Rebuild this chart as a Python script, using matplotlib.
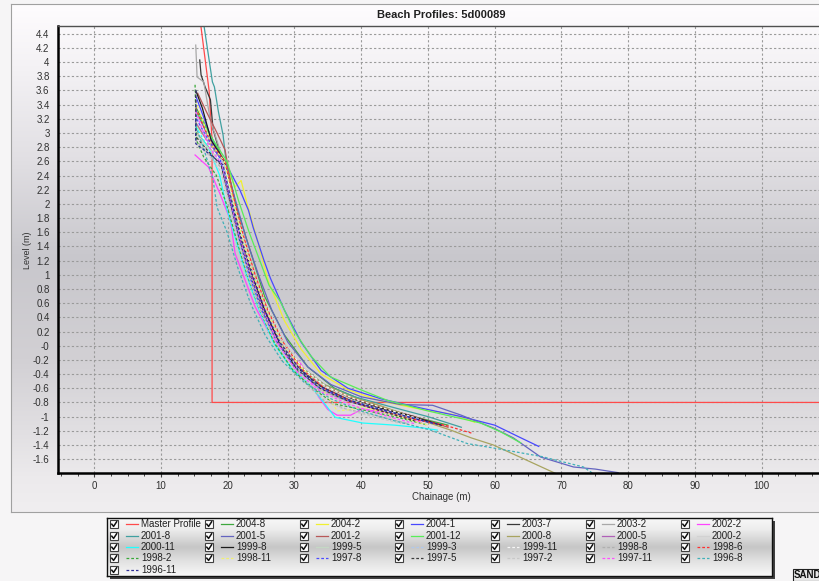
import matplotlib
matplotlib.use("Agg")
import matplotlib.pyplot as plt
import numpy as np
from matplotlib.colors import LinearSegmentedColormap
from matplotlib.lines import Line2D
from matplotlib.patches import Rectangle
from matplotlib.ticker import MultipleLocator, FixedLocator

W, H = 819, 581
FONT = "Liberation Sans"

# --- profile data (chainage m, level m) ---
master_x = [15.85, 17.2, 17.65, 17.65, 115.0]
master_y = [4.6, 3.6, 2.9, -0.8, -0.8]

x_2004_8 = [15.3, 17.8, 19.8, 21.5, 23.5, 25.5, 28.5, 32, 36, 41, 47, 53]
y_2004_8 = [3.35, 2.9, 2.55, 1.9, 1.3, 0.7, 0.15, -0.3, -0.6, -0.8, -0.98, -1.12]

x_2004_2 = [15.4, 17.6, 19.5, 21.1, 22.0, 22.9, 24.4, 26.1, 28.5, 31, 34, 38, 43, 48, 53.8, 57]
y_2004_2 = [3.1, 2.8, 2.6, 2.24, 2.33, 2.0, 1.5, 0.9, 0.35, -0.05, -0.4, -0.62, -0.78, -0.88, -0.97, -1.08]

x_2004_1 = [15.3, 17.8, 19.8, 21.8, 23.1, 23.8, 25.4, 26.4, 28.5, 31, 34, 38, 43, 49, 55, 60, 63.5, 66.6]
y_2004_1 = [3.5, 2.86, 2.55, 2.2, 1.91, 1.67, 1.21, 0.95, 0.5, 0.05, -0.35, -0.6, -0.75, -0.88, -1.0, -1.12, -1.28, -1.42]

x_2003_7 = [15.8, 16.0, 16.6, 17.4, 17.8, 19.3, 20.6, 22, 23.6, 25.5, 27.8, 30.5, 34, 38, 43, 48]
y_2003_7 = [4.03, 3.82, 3.65, 3.47, 3.05, 2.57, 2.0, 1.5, 1.0, 0.5, 0.05, -0.3, -0.58, -0.75, -0.88, -1.0]

x_2003_2 = [15.2, 15.3, 15.4, 16.4, 17.4, 19.3, 20.8, 22, 23.5, 25.3, 27.5, 30, 33, 37, 42, 47, 51]
y_2003_2 = [4.24, 4.03, 3.79, 3.72, 3.18, 2.62, 2.0, 1.5, 1.0, 0.5, 0.0, -0.35, -0.6, -0.75, -0.88, -1.0, -1.1]

x_2002_2 = [15.1, 17.1, 18.8, 20.4, 21.1, 22.5, 24.1, 26, 27.9, 30.9, 32.5, 33.6, 35, 36.4, 38.4, 40.2, 44, 49]
y_2002_2 = [2.69, 2.52, 2.15, 1.77, 1.3, 0.95, 0.55, 0.22, -0.02, -0.25, -0.5, -0.72, -0.9, -0.98, -0.98, -0.89, -0.95, -1.08]

x_2001_8 = [16.3, 17.7, 18.0, 18.6, 19.3, 19.8, 21, 22.3, 24, 26, 28.3, 31, 34.5, 39, 44, 50, 55]
y_2001_8 = [4.6, 3.72, 3.65, 3.3, 2.97, 2.55, 2.0, 1.5, 1.0, 0.5, 0.05, -0.3, -0.55, -0.72, -0.85, -1.0, -1.15]

x_2001_5 = [15.3, 17.6, 19.7, 21.3, 22.8, 24.6, 26.6, 29, 32, 35.5, 40, 45.9, 50.7, 55, 59.8, 62.8, 66.9, 71.8, 75.1, 78.5]
y_2001_5 = [3.3, 2.85, 2.55, 2.0, 1.5, 1.0, 0.5, 0.05, -0.3, -0.55, -0.72, -0.83, -0.84, -0.98, -1.16, -1.3, -1.57, -1.71, -1.74, -1.79]

x_2001_2 = [15.5, 16.8, 18.4, 19.6, 20.8, 22.2, 23.8, 25.6, 27.8, 30.6, 34, 38, 43, 48, 53]
y_2001_2 = [3.56, 3.3, 3.0, 2.76, 2.1, 1.55, 1.0, 0.5, 0.05, -0.3, -0.55, -0.72, -0.87, -1.0, -1.15]

x_2001_12 = [15.3, 17.8, 19.9, 21.6, 23.2, 24.8, 26.2, 27.9, 30, 32.5, 35.4, 39.9, 43.9, 50, 57.9, 61, 63.9]
y_2001_12 = [3.3, 2.9, 2.6, 2.05, 1.6, 1.2, 0.85, 0.62, 0.2, -0.15, -0.44, -0.62, -0.77, -0.92, -1.09, -1.22, -1.37]

x_2000_8 = [15.3, 17.6, 19.6, 21, 22.4, 24.1, 26, 28.3, 31, 34.5, 38.5, 43, 48, 53.4, 56.5, 59.8, 64, 69.1]
y_2000_8 = [3.0, 2.75, 2.55, 2.0, 1.5, 1.0, 0.5, 0.05, -0.3, -0.55, -0.72, -0.85, -1.02, -1.19, -1.3, -1.4, -1.58, -1.8]

x_2000_5 = [15.2, 17.5, 19.4, 20.8, 22.2, 23.8, 25.7, 28, 30.8, 34, 38, 43, 48]
y_2000_5 = [3.15, 2.8, 2.58, 2.0, 1.5, 1.0, 0.5, 0.02, -0.35, -0.6, -0.78, -0.92, -1.05]

x_2000_2 = [15.2, 17.4, 19.3, 20.5, 21.9, 23.5, 25.4, 27.6, 30.2, 33.5, 37.5, 42, 47]
y_2000_2 = [3.0, 2.75, 2.6, 2.0, 1.5, 1.0, 0.5, 0.0, -0.38, -0.62, -0.8, -0.95, -1.1]

x_2000_11 = [15.2, 17.3, 18.8, 19.8, 21.2, 22.8, 24.7, 27, 29.6, 31.9, 32.9, 36.1, 40.2, 45, 49.3, 51.4]
y_2000_11 = [3.1, 2.75, 2.4, 1.95, 1.5, 1.0, 0.5, 0.02, -0.33, -0.52, -0.62, -1.01, -1.09, -1.12, -1.16, -1.19]

x_1999_8 = [15.2, 16.2, 17.5, 19.5, 20.8, 22.1, 23.7, 25.5, 27.7, 30.2, 33.5, 37.5, 42, 47, 52]
y_1999_8 = [3.6, 3.35, 2.9, 2.6, 2.0, 1.5, 1.0, 0.5, 0.05, -0.3, -0.55, -0.72, -0.86, -0.98, -1.12]

x_1999_5 = [15.3, 17.5, 19.5, 20.9, 22.3, 24, 25.9, 28.2, 31, 34.5, 38.5, 43, 48]
y_1999_5 = [2.95, 2.75, 2.55, 2.0, 1.5, 1.0, 0.5, 0.05, -0.32, -0.58, -0.76, -0.9, -1.05]

x_1999_3 = [15.2, 17.4, 19.4, 20.7, 22.1, 23.8, 25.8, 28.1, 30.8, 34, 38, 43, 48]
y_1999_3 = [3.25, 2.8, 2.55, 2.0, 1.5, 1.0, 0.5, 0.0, -0.35, -0.6, -0.78, -0.92, -1.06]

x_1999_11 = [15.3, 17.6, 19.5, 21, 22.4, 24.1, 26.1, 28.5, 31.3, 34.8, 39, 44, 49]
y_1999_11 = [3.05, 2.78, 2.52, 2.0, 1.5, 1.0, 0.5, 0.02, -0.32, -0.58, -0.75, -0.9, -1.04]

x_1998_8 = [15.2, 17.2, 19.1, 20.3, 21.6, 23.1, 25, 27.1, 28.4, 29.9, 31.9, 34.5, 38, 42, 47]
y_1998_8 = [2.9, 2.7, 2.5, 2.0, 1.5, 1.0, 0.5, 0.1, -0.05, -0.3, -0.55, -0.78, -0.9, -0.98, -1.1]

x_1998_6 = [15.2, 17.5, 19.6, 21.1, 22.5, 24.1, 26, 28.3, 31, 34.5, 38.5, 43, 48, 52.5, 56.8]
y_1998_6 = [3.35, 2.85, 2.6, 2.0, 1.5, 1.0, 0.5, 0.05, -0.32, -0.6, -0.78, -0.92, -1.04, -1.12, -1.24]

x_1998_2 = [15.1, 15.2, 15.3, 16.4, 18.3, 19.8, 21.3, 22.9, 24.8, 27.1, 29.8, 33, 36, 40, 45, 50]
y_1998_2 = [3.68, 3.3, 2.9, 2.66, 2.4, 2.0, 1.5, 1.0, 0.5, 0.02, -0.35, -0.62, -0.82, -0.9, -1.0, -1.12]

x_1998_11 = [15.2, 17.5, 19.5, 20.9, 22.2, 23.8, 25.8, 28.2, 31, 33.5, 34.9, 36.4, 38.5, 40, 45, 50]
y_1998_11 = [3.45, 2.85, 2.6, 2.0, 1.5, 1.0, 0.5, 0.0, -0.3, -0.55, -0.7, -0.92, -0.9, -0.86, -0.98, -1.12]

x_1997_8 = [15.2, 15.3, 16.8, 18.8, 20.2, 21.6, 23.2, 25.1, 27.4, 30, 33.5, 37.5, 42, 47, 51]
y_1997_8 = [3.6, 3.2, 2.95, 2.65, 2.1, 1.55, 1.0, 0.5, 0.05, -0.3, -0.58, -0.75, -0.88, -1.0, -1.1]

x_1997_5 = [15.2, 15.2, 17, 19, 20.4, 21.8, 23.4, 25.3, 27.6, 30.3, 33.8, 38, 43, 48]
y_1997_5 = [3.6, 2.95, 2.75, 2.55, 2.0, 1.5, 1.0, 0.5, 0.03, -0.33, -0.6, -0.78, -0.92, -1.06]

x_1997_2 = [15.3, 17.2, 19, 20.2, 21.5, 23, 24.8, 26.9, 28.4, 29.9, 31.9, 34, 37, 41, 46]
y_1997_2 = [2.85, 2.68, 2.45, 2.0, 1.5, 1.0, 0.5, 0.1, 0.08, -0.24, -0.52, -0.72, -0.88, -0.98, -1.1]

x_1997_11 = [15.2, 17.2, 19.2, 20.5, 21.9, 23.5, 25.4, 27.7, 30.5, 34, 38, 43, 48]
y_1997_11 = [3.3, 2.8, 2.55, 2.0, 1.5, 1.0, 0.5, 0.0, -0.38, -0.65, -0.82, -0.97, -1.1]

x_1996_8 = [15.2, 16.5, 17.8, 18.4, 19.9, 21.5, 23.4, 25.6, 28.2, 31.5, 35.5, 40, 45, 50.4, 55.9, 60.9, 66.9, 73.3, 74.7]
y_1996_8 = [3.1, 2.75, 2.34, 1.95, 1.6, 1.1, 0.6, 0.15, -0.22, -0.52, -0.75, -0.92, -1.06, -1.19, -1.38, -1.46, -1.56, -1.71, -1.8]

x_1996_11 = [15.2, 15.2, 17.3, 19.3, 20.6, 22, 23.6, 25.5, 27.8, 30.5, 34, 38, 43, 48, 52]
y_1996_11 = [3.2, 2.85, 2.7, 2.55, 2.0, 1.5, 1.0, 0.5, 0.05, -0.3, -0.58, -0.76, -0.9, -1.03, -1.12]

labels = ["Master Profile", "2004-8", "2004-2", "2004-1", "2003-7", "2003-2", "2002-2",
          "2001-8", "2001-5", "2001-2", "2001-12", "2000-8", "2000-5", "2000-2",
          "2000-11", "1999-8", "1999-5", "1999-3", "1999-11", "1998-8", "1998-6",
          "1998-2", "1998-11", "1997-8", "1997-5", "1997-2", "1997-11", "1996-8",
          "1996-11"]

profiles = [
    (master_x, master_y), (x_2004_8, y_2004_8), (x_2004_2, y_2004_2), (x_2004_1, y_2004_1),
    (x_2003_7, y_2003_7), (x_2003_2, y_2003_2), (x_2002_2, y_2002_2), (x_2001_8, y_2001_8),
    (x_2001_5, y_2001_5), (x_2001_2, y_2001_2), (x_2001_12, y_2001_12), (x_2000_8, y_2000_8),
    (x_2000_5, y_2000_5), (x_2000_2, y_2000_2), (x_2000_11, y_2000_11), (x_1999_8, y_1999_8),
    (x_1999_5, y_1999_5), (x_1999_3, y_1999_3), (x_1999_11, y_1999_11), (x_1998_8, y_1998_8),
    (x_1998_6, y_1998_6), (x_1998_2, y_1998_2), (x_1998_11, y_1998_11), (x_1997_8, y_1997_8),
    (x_1997_5, y_1997_5), (x_1997_2, y_1997_2), (x_1997_11, y_1997_11), (x_1996_8, y_1996_8),
    (x_1996_11, y_1996_11),
]

x_ticks = [0, 10, 20, 30, 40, 50, 60, 70, 80, 90, 100]

# styles
colors = ['#ff4a4a', '#3ea83e', '#f0f030', '#4848ff', '#383838', '#a8a8a8', '#ff44ff',
          '#40a0a0', '#6464c0', '#b85858', '#58ee58', '#a8a460', '#b060b8', '#d2d2d2',
          '#20ffff', '#1c1c1c', '#c4d8c4', '#b0c8ec', '#f6f6f6', '#b0b0b0', '#ff3030',
          '#38a838', '#f0f070', '#4c4cff', '#3c3c3c', '#c8c8c8', '#ff50ff', '#40b0b8',
          '#303098']
dashed = [False] * 17 + [True] * 12
DASH = (0, (2.2, 1.6))


def px(x, y):
    """pixel position -> figure fraction"""
    return x / W, 1 - y / H


def gradient_axes(fig, rect, stops, z):
    a = fig.add_axes(rect)
    a.set_zorder(z)
    cmap = LinearSegmentedColormap.from_list("g", stops)
    a.imshow(np.linspace(0, 1, 256).reshape(-1, 1), aspect="auto", cmap=cmap,
             extent=[0, 1, 0, 1], origin="upper")
    a.set_xticks([])
    a.set_yticks([])
    return a


fig = plt.figure(figsize=(W / 100, H / 100), dpi=100, facecolor="#f6f5f6")

# chart panel with vertical gradient
panel = gradient_axes(fig, [11 / W, 1 - 512 / H, 830 / W, 508 / H],
                      [(0, "#fefcfe"), (0.12, "#f4f2f5"), (0.3, "#e2e0e4"),
                       (0.5, "#c8c7cc"), (0.7, "#d2d0d4"), (0.85, "#e2e0e3"),
                       (0.93, "#eceaec"), (1, "#f0eef0")], -2)
for s in panel.spines.values():
    s.set_color("#a0a0a0")

ax = fig.add_axes([58 / W, 1 - 473 / H, (830 - 58) / W, (473 - 26) / H])
ax.set_facecolor("none")
ax.set_zorder(1)

for (xs, ys), c, d in zip(profiles, colors, dashed):
    ax.plot(xs, ys, color=c, lw=0.9, linestyle=DASH if d else "-")

ax.set_xlim(-5.44, 110.25)
ax.set_ylim(-1.795, 4.509)

yt = np.round(np.arange(-1.6, 4.41, 0.2), 1)
ax.set_yticks(yt)
ax.set_yticklabels([f"{v:g}" for v in yt])
ax.xaxis.set_major_locator(FixedLocator(x_ticks))
ax.xaxis.set_minor_locator(MultipleLocator(2.5))
ax.tick_params(axis="y", length=0, pad=6, labelsize=7, labelcolor="#303030")
ax.tick_params(axis="x", which="major", length=3, width=0.8, color="#404040",
               labelsize=7, labelcolor="#303030", pad=3)
ax.tick_params(axis="x", which="minor", length=2, width=0.7, color="#404040")
for lab in ax.get_xticklabels() + ax.get_yticklabels():
    lab.set_fontfamily(FONT)

ax.grid(True, which="major", color="#9a9a9a", linestyle=(0, (2, 2)), lw=0.8)
ax.set_axisbelow(True)
ax.spines["left"].set_linewidth(1.8)
ax.spines["bottom"].set_linewidth(1.8)
ax.spines["top"].set_color("#505050")
ax.spines["top"].set_linewidth(1.0)
ax.spines["right"].set_visible(False)

fig.text(*px(441, 15), "Beach Profiles: 5d00089", ha="center", va="center",
         fontsize=8, fontweight="bold", family=FONT, color="#202020")
fig.text(*px(441, 497), "Chainage (m)", ha="center", va="center",
         fontsize=7, family=FONT, color="#303030")
fig.text(*px(27, 250), "Level (m)", ha="center", va="center", rotation=90,
         fontsize=6.5, family=FONT, color="#303030")

# legend box (shadow + gradient)
lx0, ly0, lx1, ly1 = 107, 518, 772, 576
fig.add_artist(Rectangle(px(lx0 + 3, ly1 + 3), (lx1 - lx0) / W, (ly1 - ly0) / H,
                         transform=fig.transFigure, facecolor="#404040",
                         edgecolor="none", zorder=-1))
leg = gradient_axes(fig, [lx0 / W, 1 - ly1 / H, (lx1 - lx0) / W, (ly1 - ly0) / H],
                    [(0, "#f8f8f8"), (0.2, "#ececec"), (0.5, "#c6c6c6"),
                     (0.75, "#e2e2e2"), (1, "#f8f8f8")], 0)
for s in leg.spines.values():
    s.set_color("#101010")
    s.set_linewidth(1.0)

col_x = [110, 205, 300, 395, 491, 586, 681]
row_y = [524, 536, 547, 558, 570]
for i, lab in enumerate(labels):
    cx = col_x[i % 7]
    cy = row_y[i // 7]
    # checkbox
    fig.add_artist(Rectangle(px(cx, cy + 4), 8 / W, 8 / H, transform=fig.transFigure,
                             facecolor="white", edgecolor="#404040", lw=0.8, zorder=3))
    fig.add_artist(Line2D([(cx + 1.8) / W, (cx + 3.6) / W, (cx + 6.6) / W],
                          [1 - (cy + 0.2) / H, 1 - (cy + 2.4) / H, 1 - (cy - 2.2) / H],
                          transform=fig.transFigure, color="#101010", lw=1.1, zorder=4))
    fig.add_artist(Line2D([(cx + 16) / W, (cx + 28) / W], [1 - cy / H, 1 - cy / H],
                          transform=fig.transFigure, color=colors[i], lw=0.9,
                          linestyle=DASH if dashed[i] else "-", zorder=3))
    fig.text((cx + 31) / W, 1 - cy / H, lab, ha="left", va="center", fontsize=7,
             family=FONT, color="#202020", zorder=4)

fig.text(*px(794, 575), "SAND", ha="left", va="center", fontsize=7, fontweight="bold",
         family=FONT, color="#101010",
         bbox=dict(boxstyle="square,pad=0.15", facecolor="#e8e8e8", edgecolor="#202020", lw=0.8))

fig.savefig("out.png", dpi=100, facecolor=fig.get_facecolor())
